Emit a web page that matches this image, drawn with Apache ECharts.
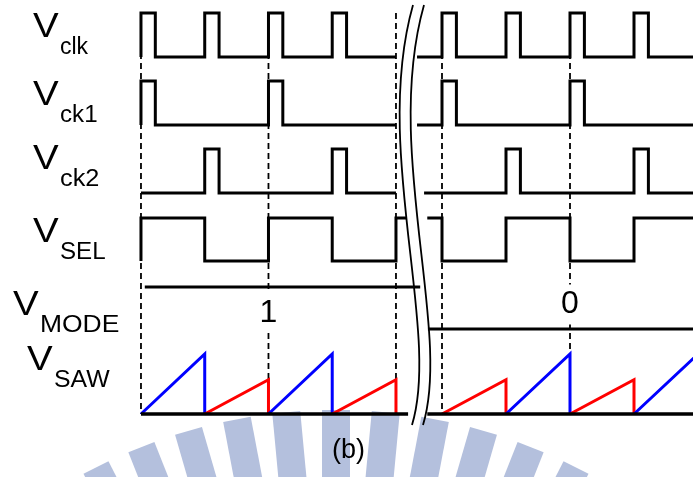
<!DOCTYPE html>
<html>
<head>
<meta charset="utf-8">
<script src="https://cdn.jsdelivr.net/npm/echarts@6/dist/echarts.min.js"></script>
<style>
  html, body { margin: 0; padding: 0; background: #fff; }
  #chart { width: 693px; height: 477px; }
</style>
</head>
<body>
<div id="chart"></div>
<script>
// signal names (subscripts of V)
var signalNames = ['clk', 'ck1', 'ck2', 'SEL', 'MODE', 'SAW'];

// one entry per clock period, left of the break and right of it
var clkLeft = [1, 1, 1, 1];
var ck1Left = [1, 0, 1, 0];
var ck2Left = [0, 1, 0, 1];
var clkRight = [1, 1, 1, 1];
var ck1Right = [1, 0, 1, 0];
var ck2Right = [0, 1, 0, 1];

// VSEL level: first entry is the level before t=0, then one per period
var selLeft = [0, 1, 0, 1, 0, 1];
var selRight = [1, 0, 1, 0, 1];

// VMODE value on each side
var modeLeft = 1;
var modeRight = 0;
var modeText = ['1', '0'];

// sawtooth peak per period (1 = full ramp)
var sawLeft = [1, 0.57, 1, 0.57];
var sawRight = [0.57, 1, 0.57, 1];

// clock edges that get a dashed guide line
var guideLeft = [0, 2, 4];
var guideRight = [0, 2];

// ---- layout ----
var pulseWidth = 0.225;
var rows = {
    clk: { low: 57, amp: 44 },
    ck1: { low: 125, amp: 44 },
    ck2: { low: 193, amp: 44 },
    sel: { low: 261, amp: 43 },
    mode: { low: 329, amp: 42 },
    saw: { low: 414, amp: 60 }
};
// where each trace starts / stops around the break (in clock periods)
var extentLeft = { clk: [0, 4], ck1: [0, 4], ck2: [0, 4], sel: [0, 4.17], mode: [0.06, 4.38], saw: [0, 4.19] };
var extentRight = { clk: [-0.39, 4.2], ck1: [-0.39, 4.2], ck2: [-0.28, 4.2], sel: [-0.23, 4.2], mode: [-0.22, 4.2], saw: [-0.23, 4.2] };

function pulseTrain(pulses, ext, row) {
    var hi = row.low - row.amp;
    var pts = [[ext[0], row.low]];
    pulses.forEach(function (p, i) {
        if (p) {
            pts.push([i, row.low], [i, hi], [i + pulseWidth, hi], [i + pulseWidth, row.low]);
        }
    });
    pts.push([ext[1], row.low]);
    return pts;
}

function levelTrain(levels, ext, row) {
    var lvl = function (b) { return row.low - b * row.amp; };
    var pts = [[ext[0], lvl(levels[0])]];
    for (var k = 1; k < levels.length; k++) {
        if (levels[k] !== levels[k - 1]) {
            pts.push([k - 1, lvl(levels[k - 1])], [k - 1, lvl(levels[k])]);
        }
    }
    pts.push([ext[1], lvl(levels[levels.length - 1])]);
    return pts;
}

var series = [];
function addLine(side, data, color, width, dash, z) {
    series.push({
        type: 'line',
        xAxisIndex: side,
        yAxisIndex: side,
        data: data,
        symbol: 'none',
        clip: true,
        silent: true,
        z: z,
        lineStyle: { color: color, width: width, type: dash || 'solid', join: 'miter' }
    });
}

function buildSide(side, d) {
    var ext = d.ext;
    // dashed guides under the traces
    d.guides.forEach(function (t) {
        var bottom = t === 0 ? rows.saw.low : rows.saw.low - d.saw[t - 1] * rows.saw.amp;
        addLine(side, [[t, rows.clk.low - rows.clk.amp], [t, bottom]], '#000', 1.8, [6, 4], 1);
    });
    addLine(side, pulseTrain(d.clk, ext.clk, rows.clk), '#000', 3, null, 3);
    addLine(side, pulseTrain(d.ck1, ext.ck1, rows.ck1), '#000', 3, null, 3);
    addLine(side, pulseTrain(d.ck2, ext.ck2, rows.ck2), '#000', 3, null, 3);
    addLine(side, levelTrain(d.sel, ext.sel, rows.sel), '#000', 3, null, 3);
    var my = rows.mode.low - d.mode * rows.mode.amp;
    addLine(side, [[ext.mode[0], my], [ext.mode[1], my]], '#000', 3, null, 3);
    // sawtooth ramps, blue for the full ramp, red for the shallow one
    d.saw.forEach(function (p, i) {
        var top = rows.saw.low - p * rows.saw.amp;
        var col = p >= 1 ? '#0000ff' : '#ff0000';
        addLine(side, [[i, rows.saw.low], [i + 1, top], [i + 1, rows.saw.low]], col, 3, null, 3);
    });
    addLine(side, [[ext.saw[0], rows.saw.low], [ext.saw[1], rows.saw.low]], '#000', 3.4, null, 4);
}

buildSide(0, { ext: extentLeft, clk: clkLeft, ck1: ck1Left, ck2: ck2Left, sel: selLeft, mode: modeLeft, saw: sawLeft, guides: guideLeft });
buildSide(1, { ext: extentRight, clk: clkRight, ck1: ck1Right, ck2: ck2Right, sel: selRight, mode: modeRight, saw: sawRight, guides: guideRight });

// ---- graphic: labels, break marks, faint watermark ----
var graphics = [];
var labelPos = [[33, 40], [33, 108], [33, 172], [33, 245], [13, 318], [27, 373]];
var subScale = [1.0, 1.05, 1.1, 1.05, 1.15, 1.08];
signalNames.forEach(function (name, i) {
    var x = labelPos[i][0], base = labelPos[i][1];
    graphics.push({
        type: 'text', x: x, y: base - 0.35 * 35, scaleX: 1.1, z: 10,
        style: { text: 'V', fontFamily: 'Liberation Sans', fontSize: 35, fill: '#000', textAlign: 'left', textVerticalAlign: 'middle' }
    });
    graphics.push({
        type: 'text', x: x + 27, y: base + 16 - 0.35 * 23, scaleX: subScale[i], z: 10,
        style: { text: name, fontFamily: 'Liberation Sans', fontSize: 23, fill: '#000', textAlign: 'left', textVerticalAlign: 'middle' }
    });
});
graphics.push({
    type: 'text', x: 348.5, y: 451, z: 10,
    style: { text: '(b)', fontFamily: 'Liberation Sans', fontSize: 27, fill: '#000', textAlign: 'center', textVerticalAlign: 'middle' }
});
[0, 11].forEach(function (dx) {
    graphics.push({
        type: 'bezierCurve', z: 10, silent: true,
        shape: { x1: 413 + dx, y1: 5, cpx1: 372 + dx, cpy1: 150, cpx2: 441 + dx, cpy2: 330, x2: 412 + dx, y2: 425 },
        style: { stroke: '#000', lineWidth: 1.8, fill: null }
    });
});
for (var k = -5; k <= 5; k++) {
    graphics.push({
        type: 'rect', x: 336, y: 940, rotation: -k * 0.094, z: -10, silent: true,
        shape: { x: -14, y: -530, width: 28, height: 160 },
        style: { fill: 'rgb(180,192,221)' }
    });
}

var chart = echarts.init(document.getElementById('chart'));
// one clock period is ~63.75 px on the left, 64 px on the right
chart.setOption({
    animation: false,
    backgroundColor: '#fff',
    grid: [
        { left: 109.1, width: 318.75, top: 0, height: 477 },
        { left: 410, right: 0, top: 0, height: 477 }
    ],
    xAxis: [
        { type: 'value', gridIndex: 0, min: -0.5, max: 4.5, show: false },
        { type: 'value', gridIndex: 1, min: -0.5, max: -0.5 + 283 / 64, show: false }
    ],
    yAxis: [
        { type: 'value', gridIndex: 0, min: 0, max: 477, inverse: true, show: false },
        { type: 'value', gridIndex: 1, min: 0, max: 477, inverse: true, show: false }
    ],
    graphic: graphics,
    series: series
});

// VMODE values, placed on the grid at the second clock edge; white box masks the guide
var modeY = [313, 304.5];
modeText.forEach(function (txt, side) {
    var p = chart.convertToPixel({ gridIndex: side }, [2, modeY[side]]);
    graphics.push({
        type: 'text', x: p[0], y: p[1], z: 20,
        style: {
            text: txt, fontFamily: 'Liberation Sans', fontSize: 32, fill: '#000',
            textAlign: 'center', textVerticalAlign: 'middle',
            backgroundColor: '#fff', padding: [4, 2]
        }
    });
});
chart.setOption({ graphic: graphics });
</script>
</body>
</html>
